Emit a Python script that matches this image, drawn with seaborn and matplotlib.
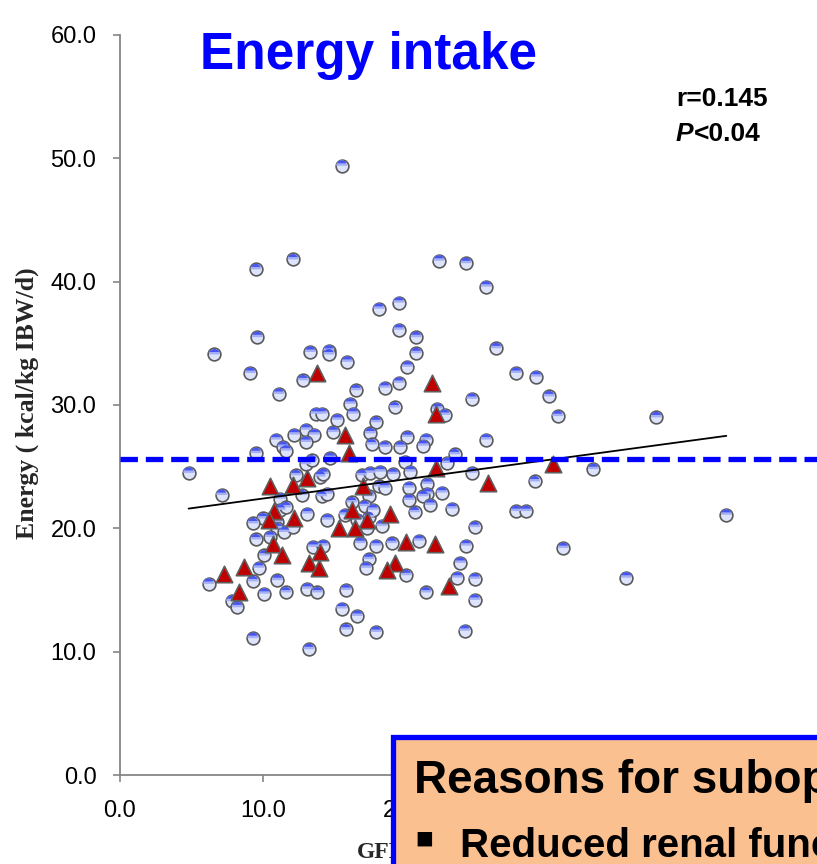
import numpy as np
import pandas as pd
import matplotlib
matplotlib.use("Agg")
import matplotlib.pyplot as plt
import seaborn as sns
from matplotlib.path import Path
from matplotlib.patches import Rectangle

# ---------------- data ----------------
gfr_circle = [9.5, 12.1, 9.6, 6.6, 13.3, 14.6, 14.6, 15.9, 9.1, 12.8,
              11.1, 13.7, 14.1, 15.2, 16.1, 13.0, 12.2, 13.6, 14.9, 10.9,
              22.3, 24.2, 25.6, 18.1, 19.5, 19.5, 20.7, 20.7, 26.3, 20.1,
              27.7, 29.1, 19.5, 16.5, 18.5, 30.0, 24.6, 16.3, 19.2, 30.6,
              22.2, 22.7, 17.9, 17.5, 20.1, 21.4, 25.6, 13.0, 11.4, 11.6,
              9.5, 4.8, 7.1, 13.0, 13.4, 14.7, 12.3, 14.0, 14.2, 12.7,
              14.1, 14.5, 11.2, 11.2, 11.6, 13.1, 10.0, 9.3, 11.0, 11.0,
              11.5, 12.1, 14.5, 10.5, 9.5, 10.1, 13.5, 14.2, 9.7, 6.2,
              9.3, 11.0, 7.8, 8.2, 10.1, 11.6, 13.1, 13.8, 15.8, 15.5,
              15.8, 9.3, 13.2, 17.6, 18.5, 19.6, 21.2, 23.4, 19.9, 20.3,
              16.9, 17.5, 18.2, 19.1, 18.1, 18.5, 22.9, 24.6, 29.0, 17.4,
              20.2, 20.2, 21.5, 21.5, 21.2, 21.7, 22.5, 23.2, 20.6, 16.2,
              17.1, 15.7, 17.4, 18.3, 27.7, 28.4, 24.8, 16.8, 17.9, 19.0,
              20.9, 24.2, 31.0, 17.4, 17.2, 20.0, 23.8, 23.6, 24.8, 21.4,
              24.8, 16.6, 17.9, 24.1, 37.5, 33.1, 42.4, 35.4, 15.5, 17.7,
              16.6, 17.3]
energy_circle = [41.0, 41.8, 35.5, 34.1, 34.3, 34.4, 34.1, 33.5, 32.6, 32.0,
                 30.9, 29.3, 29.3, 28.8, 30.1, 28.0, 27.6, 27.6, 27.8, 27.2,
                 41.7, 41.5, 39.6, 37.8, 38.3, 36.1, 35.5, 34.2, 34.6, 33.1,
                 32.6, 32.3, 31.8, 31.2, 31.4, 30.7, 30.5, 29.3, 29.8, 29.1,
                 29.7, 29.2, 28.6, 27.7, 27.4, 27.2, 27.2, 27.0, 26.6, 26.3,
                 26.1, 24.5, 22.7, 25.2, 25.5, 25.7, 24.3, 24.2, 24.4, 22.7,
                 22.6, 22.8, 22.4, 21.5, 21.7, 21.2, 20.8, 20.4, 20.5, 20.0,
                 19.7, 20.1, 20.7, 19.3, 19.1, 17.8, 18.5, 18.6, 16.8, 15.5,
                 15.7, 15.8, 14.1, 13.6, 14.7, 14.8, 15.1, 14.8, 15.0, 13.5,
                 11.8, 11.1, 10.2, 26.8, 26.6, 26.6, 26.7, 26.0, 25.4, 24.6,
                 24.3, 24.5, 24.6, 24.4, 23.4, 23.3, 25.3, 24.5, 23.8, 22.6,
                 23.3, 22.3, 23.6, 22.8, 22.6, 21.9, 22.9, 21.6, 21.3, 22.1,
                 21.8, 21.1, 20.9, 20.2, 21.4, 21.4, 20.1, 18.8, 18.6, 18.8,
                 19.0, 18.6, 18.4, 17.5, 16.8, 16.2, 17.2, 16.0, 15.9, 14.8,
                 14.2, 12.9, 11.6, 11.7, 29.0, 24.8, 21.1, 16.0, 49.4, 21.5,
                 20.7, 20.0]
gfr_triangle = [13.8, 15.7, 21.8, 22.1, 10.5, 12.1, 13.1, 10.8, 10.4, 12.2,
                15.3, 10.7, 11.3, 14.0, 13.2, 13.9, 8.7, 7.3, 8.3, 16.0,
                22.1, 30.3, 25.7, 17.0, 16.2, 17.3, 18.9, 16.4, 20.0, 22.0,
                19.2, 18.7, 23.0]
energy_triangle = [32.6, 27.6, 31.8, 29.3, 23.4, 23.5, 24.1, 21.4, 20.7, 20.8,
                   20.0, 18.7, 17.8, 18.1, 17.2, 16.8, 16.9, 16.3, 14.8, 26.1,
                   24.9, 25.2, 23.7, 23.4, 21.5, 20.7, 21.2, 20.0, 18.9, 18.7,
                   17.2, 16.6, 15.3]
fit_gfr = [4.8, 42.4]
fit_energy = [21.6, 27.5]
reference_energy = 25.6
x_ticks = [0, 10, 20]
y_ticks = [0, 10, 20, 30, 40, 50, 60]
title_text = "Energy intake"
stat_r = "r=0.145"
stat_p = "<0.04"
y_label = "Energy ( kcal/kg IBW/d)"
x_label = "GFR"
box_line1 = "Reasons for suboptimal"
box_line2 = "Reduced renal function"

circles = pd.DataFrame({"gfr": gfr_circle, "energy": energy_circle})
triangles = pd.DataFrame({"gfr": gfr_triangle, "energy": energy_triangle})
fit = pd.DataFrame({"gfr": fit_gfr, "energy": fit_energy})

# ---------------- style ----------------
sns.set_theme(style="white")
plt.rcParams["font.family"] = ["Liberation Sans", "DejaVu Sans"]

W, H = 817, 864
fig = plt.figure(figsize=(W / 100, H / 100), dpi=100)
fig.patch.set_facecolor("white")
x0_px, y0_px, ytop_px = 120, 775, 35
px_per_unit = 14.3
ax = fig.add_axes([x0_px / W, (H - y0_px) / H, 1 - x0_px / W, (y0_px - ytop_px) / H])
ax.set_facecolor("white")


def cap_marker(y0):
    t0 = np.arcsin(y0)
    ts = np.linspace(t0, np.pi - t0, 40)
    verts = np.column_stack([np.cos(ts), np.sin(ts)])
    verts = np.vstack([verts, verts[:1]])
    codes = [Path.MOVETO] + [Path.LINETO] * (len(ts) - 1) + [Path.CLOSEPOLY]
    return Path(verts, codes)


s_circ = 84
sns.scatterplot(data=circles, x="gfr", y="energy", ax=ax, marker="o", s=s_circ,
                color="#DCE3FA", edgecolor="#5A5A5A", linewidth=1.2, zorder=3)
sns.scatterplot(data=circles, x="gfr", y="energy", ax=ax, marker=cap_marker(0.0),
                s=s_circ * 0.72, color="#A4AFF6", edgecolor="none", linewidth=0, zorder=3.1)
sns.scatterplot(data=circles, x="gfr", y="energy", ax=ax, marker=cap_marker(0.45),
                s=s_circ * 0.72, color="#4555F2", edgecolor="none", linewidth=0, zorder=3.2)
sns.scatterplot(data=triangles, x="gfr", y="energy", ax=ax, marker="^", s=140,
                color="#C00000", edgecolor="#5E5E5E", linewidth=1.2, zorder=4)

sns.lineplot(data=fit, x="gfr", y="energy", ax=ax, color="black", linewidth=1.3,
             zorder=5, estimator=None, sort=False)
ax.axhline(reference_energy, color="#0000FF", linewidth=3.8,
           linestyle=(0, (3.3, 1.5)), zorder=6)

ax.set_xlim(0, (W - x0_px) / px_per_unit)
ax.set_ylim(0, 60)
ax.set_xticks(x_ticks)
ax.set_xticklabels([f"{v:.1f}" for v in x_ticks])
ax.set_yticks(y_ticks)
ax.set_yticklabels([f"{v:.1f}" for v in y_ticks])
ax.set_xlabel("")
ax.set_ylabel("")
for side in ["top", "right"]:
    ax.spines[side].set_visible(False)
for side in ["left", "bottom"]:
    ax.spines[side].set_color("#868686")
    ax.spines[side].set_linewidth(1.3)
ax.tick_params(axis="both", direction="out", length=5, width=1.2, color="#868686",
               labelsize=17, labelcolor="black", left=True, bottom=True)
ax.tick_params(axis="y", pad=12)
ax.tick_params(axis="x", pad=13)
ax.grid(False)

# ---------------- texts ----------------
fig.text(200 / W, 1 - 69 / H, title_text, color="#0000FF", fontsize=37,
         fontweight="bold", ha="left", va="baseline")
fig.text(676 / W, 1 - 106 / H, stat_r, color="black", fontsize=19,
         fontweight="bold", ha="left", va="baseline")
fig.text(676 / W, 1 - 141 / H, "P", color="black", fontsize=19,
         fontweight="bold", style="italic", ha="left", va="baseline")
fig.text(694 / W, 1 - 141 / H, stat_p, color="black", fontsize=19,
         fontweight="bold", ha="left", va="baseline")
fig.text(27 / W, 1 - 403 / H, y_label, rotation=90, fontsize=18.5,
         fontweight="bold", family=["Liberation Serif", "DejaVu Serif"],
         ha="center", va="center")
fig.text(357 / W, 1 - 858 / H, x_label, fontsize=17, fontweight="bold",
         family=["Liberation Serif", "DejaVu Serif"], ha="left", va="baseline")

# ---------------- overlay box ----------------
box = Rectangle((393 / W, -0.05), 1.0, (H - 737) / H + 0.05,
                transform=fig.transFigure, facecolor="#FAC090",
                edgecolor="#0000FF", linewidth=3.8, zorder=10)
fig.add_artist(box)
fig.text(414 / W, 1 - 793 / H, box_line1, fontsize=33, fontweight="bold",
         color="black", ha="left", va="baseline", zorder=11)
fig.text(424 / W, 1 - 839 / H, "\u25aa", fontsize=21, color="black",
         family=["DejaVu Sans"], ha="center", va="center", zorder=11)
fig.text(460 / W, 1 - 857 / H, box_line2, fontsize=29, fontweight="bold",
         family=["Liberation Sans Narrow", "Liberation Sans", "DejaVu Sans"],
         color="black", ha="left", va="baseline", zorder=11)

fig.savefig("out.png", dpi=100)
